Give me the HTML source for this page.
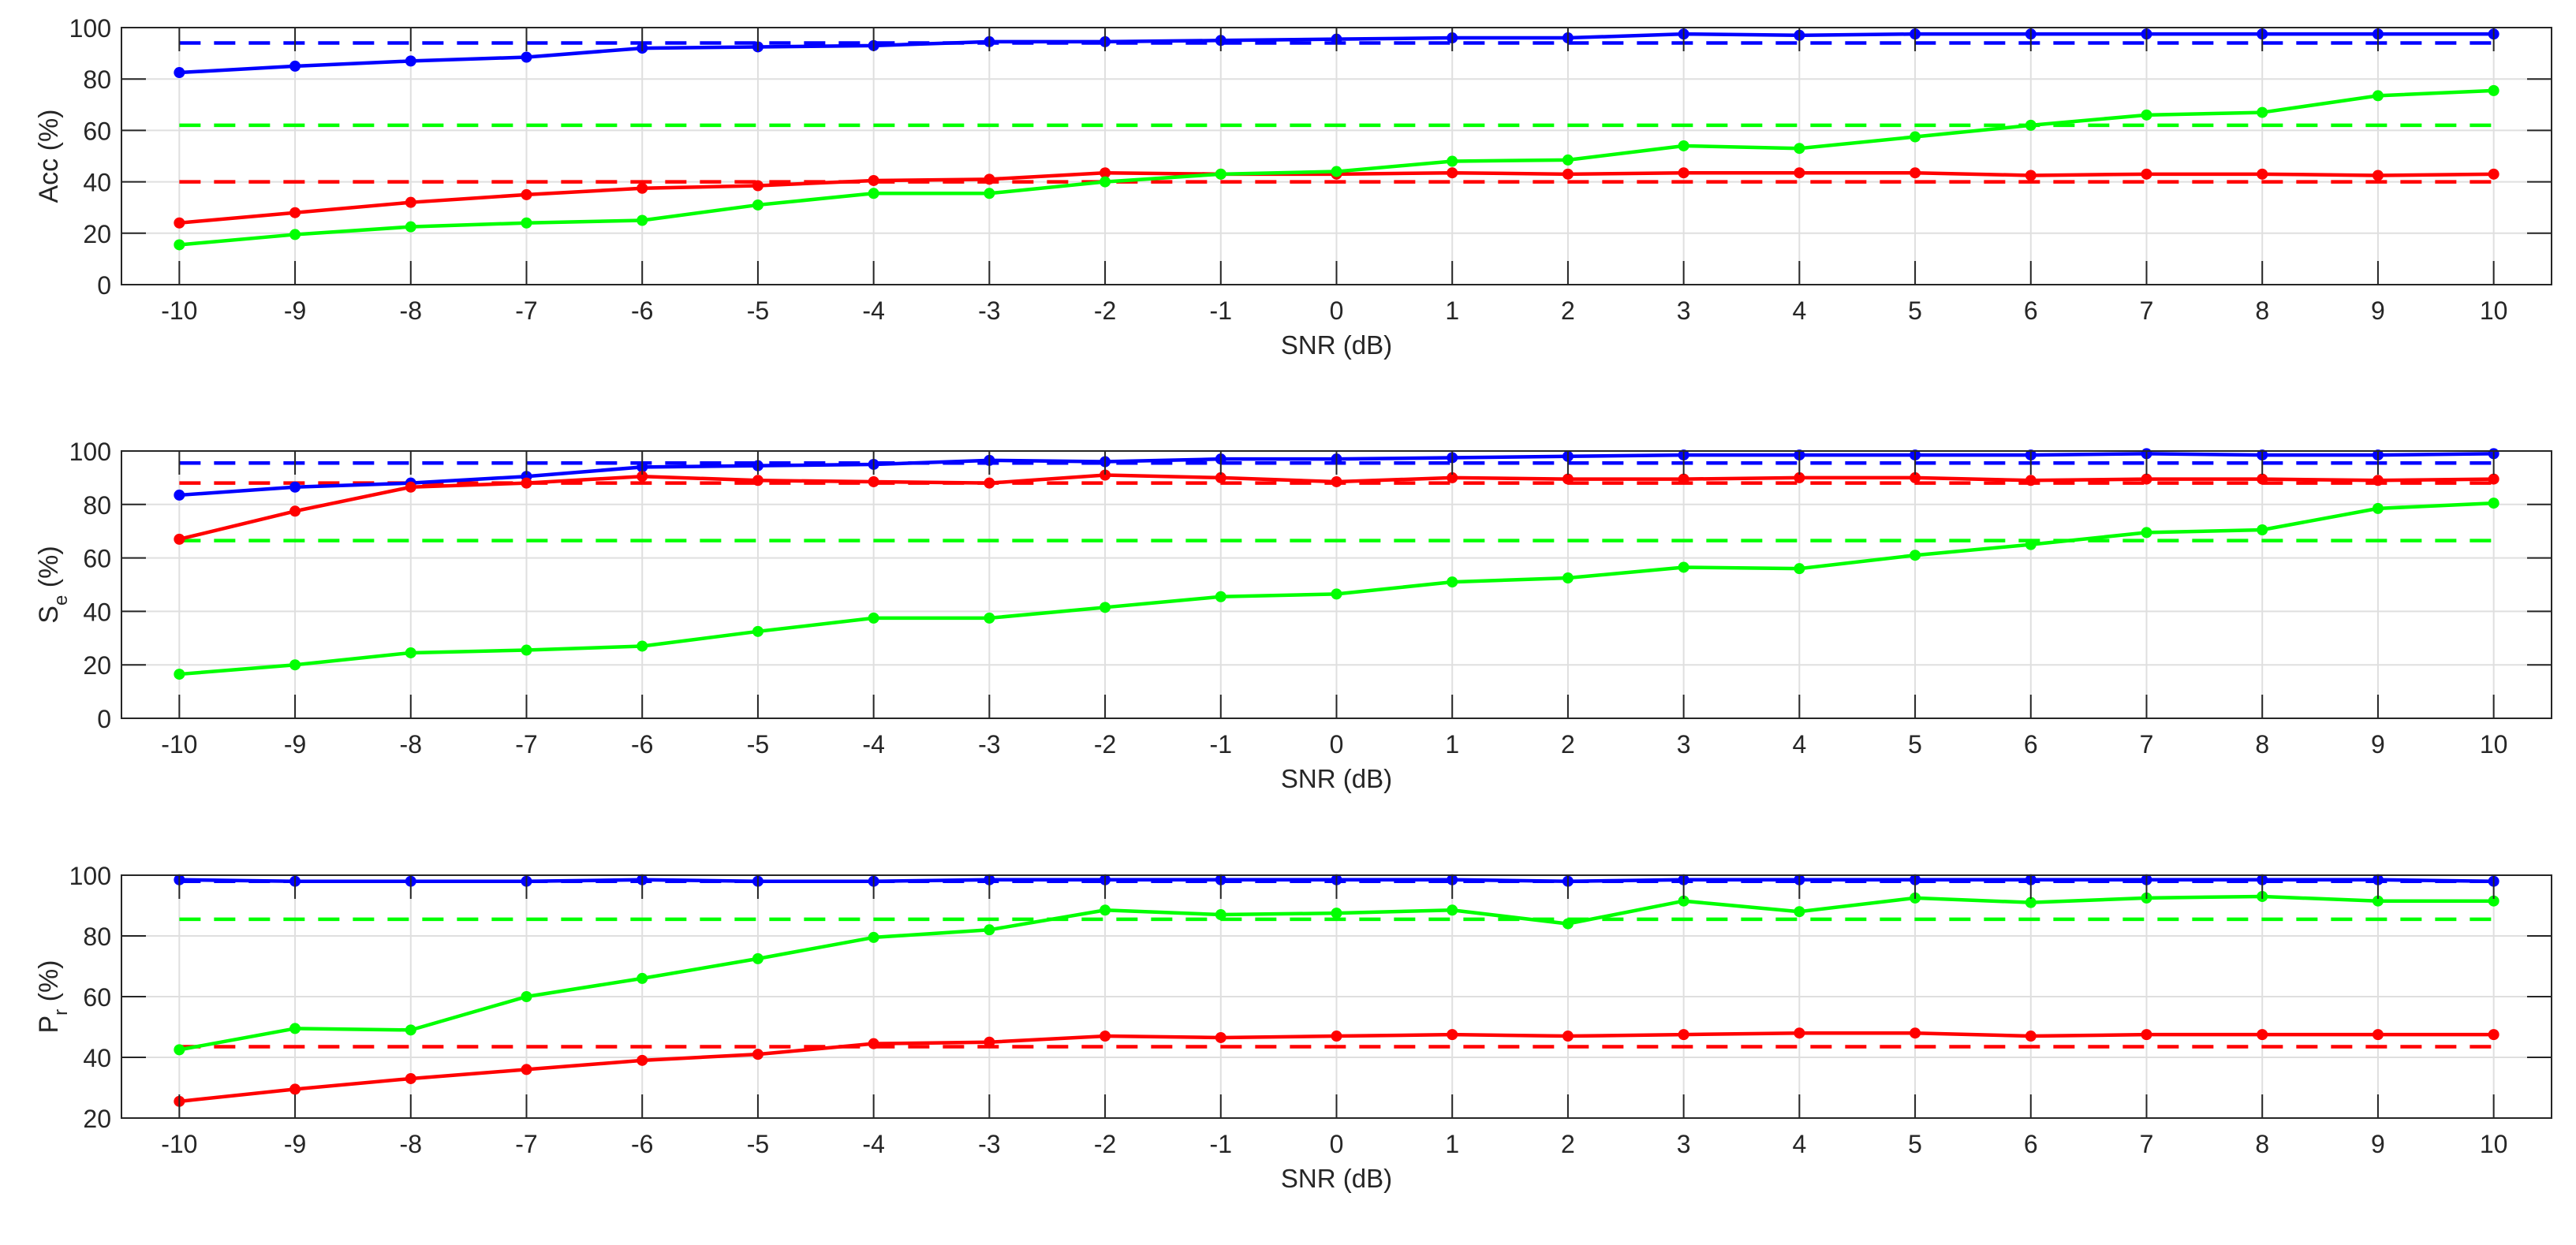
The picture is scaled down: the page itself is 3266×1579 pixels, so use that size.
<!DOCTYPE html>
<html><head><meta charset="utf-8"><style>
html,body{margin:0;padding:0;background:#fff;}
svg{display:block;font-family:"Liberation Sans",Helvetica,Arial,sans-serif;}
</style></head><body>
<svg id="fig" width="3266" height="1579" viewBox="0 0 3266 1579" xmlns="http://www.w3.org/2000/svg"></svg>
<script>
const snr = [-10,-9,-8,-7,-6,-5,-4,-3,-2,-1,0,1,2,3,4,5,6,7,8,9,10];
const accBlue = [82.5,85,87,88.5,92,92.5,93,94.5,94.5,95,95.5,96,96,97.5,97,97.5,97.5,97.5,97.5,97.5,97.5];
const accGreen = [15.5,19.5,22.5,24,25,31,35.5,35.5,40,43,44,48,48.5,54,53,57.5,62,66,67,73.5,75.5];
const accRed = [24,28,32,35,37.5,38.5,40.5,41,43.5,43,43,43.5,43,43.5,43.5,43.5,42.5,43,43,42.5,43];
const accRef = [94,62,40];
const seBlue = [83.5,86.5,88,90.5,94,94.5,95,96.5,96,97,97,97.5,98,98.5,98.5,98.5,98.5,99,98.5,98.5,99];
const seRed = [67,77.5,86.5,88,90.5,89,88.5,88,91,90,88.5,90,89.5,89.5,90,90,89,89.5,89.5,89,89.5];
const seGreen = [16.5,20,24.5,25.5,27,32.5,37.5,37.5,41.5,45.5,46.5,51,52.5,56.5,56,61,65,69.5,70.5,78.5,80.5];
const seRef = [95.5,66.5,88];
const prBlue = [98.5,98,98,98,98.5,98,98,98.5,98.5,98.5,98.5,98.5,98,98.5,98.5,98.5,98.5,98.5,98.5,98.5,98];
const prGreen = [42.5,49.5,49,60,66,72.5,79.5,82,88.5,87,87.5,88.5,84,91.5,88,92.5,91,92.5,93,91.5,91.5];
const prRed = [25.5,29.5,33,36,39,41,44.5,45,47,46.5,47,47.5,47,47.5,48,48,47,47.5,47.5,47.5,47.5];
const prRef = [98,85.5,43.5];
const yTicksA = [0,20,40,60,80,100];
const yTicksP = [20,40,60,80,100];

const NS = "http://www.w3.org/2000/svg";
const svg = document.getElementById('fig');
const X0 = 154, X1 = 3235;
function xs(v){ return X0 + (v + 10.5) / 21 * (X1 - X0); }
function mk(tag, attrs, parent){ const e = document.createElementNS(NS, tag); for (const k in attrs) e.setAttribute(k, attrs[k]); (parent||svg).appendChild(e); return e; }
const colors = {blue:'#0000ff', green:'#00ff00', red:'#ff0000'};

function panel(name, top, bottom, ymin, ymax, yticks, label, sub, series, refs){
  const g = mk('g', {});
  
  
  const ys = v => bottom - (v - ymin) / (ymax - ymin) * (bottom - top);
  snr.forEach(v => { const l = mk('line', {x1:xs(v), x2:xs(v), y1:top, y2:bottom, stroke:'#dfdfdf', 'stroke-width':2}, g);   });
  yticks.forEach(v => { const l = mk('line', {x1:X0, x2:X1, y1:ys(v), y2:ys(v), stroke:'#dfdfdf', 'stroke-width':2}, g);   });
  const refColors = ['blue','green','red'];
  refs.forEach((v,i) => {
    const l = mk('line', {x1:xs(snr[0]), x2:xs(snr[snr.length-1]), y1:ys(v), y2:ys(v), stroke:colors[refColors[i]], 'stroke-width':4.5, 'stroke-dasharray':'27,17'}, g);
    
    
  });
  series.forEach(s => {
    const pts = s.data.map((v,i) => xs(snr[i]) + ',' + ys(v)).join(' ');
    const pl = mk('polyline', {points:pts, fill:'none', stroke:colors[s.c], 'stroke-width':4.5, 'stroke-linejoin':'round'}, g);
    
    
    s.data.forEach((v,i) => {
      const c = mk('circle', {cx:xs(snr[i]), cy:ys(v), r:7, fill:colors[s.c]}, g);
      
      
    });
  });
  const b = mk('rect', {x:X0, y:top, width:X1-X0, height:bottom-top, fill:'none', stroke:'#262626', 'stroke-width':2}, g);
  
  
  snr.forEach(v => {
    mk('line', {x1:xs(v), x2:xs(v), y1:bottom, y2:bottom-30, stroke:'#262626', 'stroke-width':2}, g);
    mk('line', {x1:xs(v), x2:xs(v), y1:top, y2:top+30, stroke:'#262626', 'stroke-width':2}, g);
    const t = mk('text', {x:xs(v), y:bottom+44, 'text-anchor':'middle', 'font-size':32, fill:'#262626'}, g);
    t.textContent = v;
    
    
  });
  yticks.forEach(v => {
    mk('line', {x1:X0, x2:X0+31, y1:ys(v), y2:ys(v), stroke:'#262626', 'stroke-width':2}, g);
    mk('line', {x1:X1, x2:X1-31, y1:ys(v), y2:ys(v), stroke:'#262626', 'stroke-width':2}, g);
    const t = mk('text', {x:141, y:ys(v)+12, 'text-anchor':'end', 'font-size':32, fill:'#262626'}, g);
    t.textContent = v;
    
    
  });
  const xl = mk('text', {x:(X0+X1)/2, y:bottom+88, 'text-anchor':'middle', 'font-size':33, fill:'#262626'}, g);
  xl.textContent = 'SNR (dB)';
  
  
  const yc = (top+bottom)/2;
  const yl = mk('text', {x:0, y:0, 'text-anchor':'middle', 'font-size':34, fill:'#262626', transform:'translate(73,'+yc+') rotate(-90)'}, g);
  
  
  if (sub) {
    const a = mk('tspan', {}, yl); a.textContent = label;
    const s2 = mk('tspan', {'font-size':24, dy:12}, yl); s2.textContent = sub;
    const c = mk('tspan', {dy:-12}, yl); c.textContent = ' (%)';
  } else { yl.textContent = label + ' (%)'; }
}

panel('accuracy', 35, 361, 0, 100, yTicksA, 'Acc', '', [{c:'blue',data:accBlue},{c:'red',data:accRed},{c:'green',data:accGreen}], accRef);
panel('sensitivity', 572, 911, 0, 100, yTicksA, 'S', 'e', [{c:'blue',data:seBlue},{c:'red',data:seRed},{c:'green',data:seGreen}], seRef);
panel('precision', 1110, 1418, 20, 100, yTicksP, 'P', 'r', [{c:'blue',data:prBlue},{c:'red',data:prRed},{c:'green',data:prGreen}], prRef);
</script>
</body></html>
